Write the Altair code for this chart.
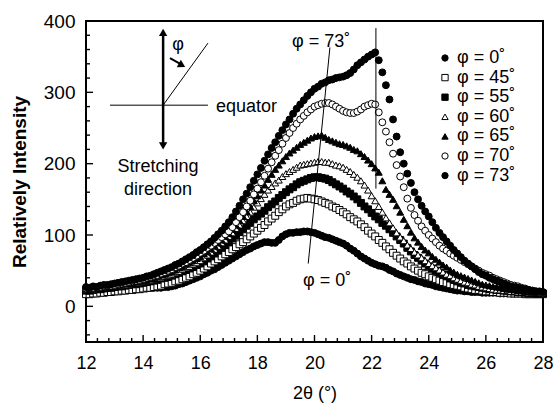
import altair as alt
import pandas as pd

# ---------------- data ----------------
TWO_THETA = [round(12 + 0.125 * i, 3) for i in range(129)]
PHI = ["φ = 0˚", "φ = 45˚", "φ = 55˚", "φ = 60˚", "φ = 65˚", "φ = 70˚", "φ = 73˚"]

I_0 = [21, 22, 22, 23, 23, 23, 24, 24, 24, 24, 25, 25, 25, 25, 25, 25,
       25, 25, 26, 26, 26, 26, 27, 27, 28, 29, 31, 32, 34, 36, 38, 40,
       42, 45, 47, 50, 52, 55, 58, 61, 64, 67, 70, 73, 76, 79, 81, 84,
       86, 88, 90, 90, 89, 89, 93, 98, 101, 103, 103, 104, 104, 105, 105, 104,
       103, 101, 99, 97, 96, 94, 92, 90, 88, 85, 81, 78, 74, 70, 67, 64,
       61, 59, 57, 56, 54, 51, 49, 46, 44, 42, 40, 38, 37, 35, 34, 32,
       31, 30, 28, 27, 26, 25, 24, 23, 22, 22, 21, 21, 20, 20, 20, 19,
       19, 19, 19, 19, 18, 18, 18, 18, 18, 18, 18, 18, 18, 18, 18, 18, 18]
I_45 = [17, 17, 18, 18, 19, 19, 20, 20, 21, 21, 22, 22, 23, 23, 24, 24,
        25, 26, 26, 27, 28, 29, 31, 32, 33, 35, 36, 38, 40, 42, 45, 47,
        50, 53, 56, 60, 63, 66, 70, 73, 76, 80, 83, 87, 90, 94, 98, 102,
        106, 110, 114, 119, 123, 127, 132, 136, 140, 143, 145, 148, 150, 151, 152, 151,
        150, 149, 147, 145, 143, 140, 138, 135, 132, 129, 125, 122, 119, 115, 111, 106,
        102, 98, 93, 89, 84, 80, 75, 71, 67, 63, 60, 56, 53, 50, 47, 45,
        42, 40, 38, 36, 34, 33, 31, 30, 29, 28, 26, 25, 24, 23, 23, 22,
        21, 21, 20, 20, 19, 19, 19, 18, 18, 18, 18, 17, 17, 17, 17, 17, 17]
I_55 = [22, 22, 23, 24, 24, 25, 26, 26, 27, 28, 28, 29, 30, 31, 31, 32,
        33, 34, 35, 36, 37, 39, 40, 41, 43, 45, 47, 49, 51, 53, 55, 58,
        60, 63, 67, 70, 74, 78, 82, 86, 90, 95, 99, 104, 108, 113, 117, 122,
        126, 130, 134, 139, 143, 147, 152, 156, 160, 164, 167, 171, 174, 176, 178, 180,
        181, 181, 180, 179, 177, 174, 171, 168, 165, 161, 158, 154, 150, 145, 140, 136,
        131, 126, 122, 117, 113, 108, 103, 98, 93, 88, 82, 77, 72, 68, 64, 60,
        56, 53, 50, 47, 44, 42, 39, 37, 35, 33, 32, 30, 29, 28, 27, 26,
        25, 24, 24, 23, 23, 22, 22, 21, 21, 20, 20, 19, 19, 19, 18, 18, 18]
I_60 = [23, 23, 24, 25, 25, 26, 27, 27, 28, 29, 29, 30, 31, 32, 32, 33,
        34, 35, 36, 38, 39, 40, 42, 43, 45, 47, 49, 52, 54, 56, 59, 61,
        64, 68, 72, 76, 80, 84, 89, 93, 98, 103, 109, 114, 120, 126, 132, 139,
        145, 151, 157, 163, 168, 173, 177, 182, 186, 189, 192, 195, 198, 199, 200, 201,
        202, 203, 203, 202, 202, 200, 198, 197, 195, 192, 189, 185, 181, 176, 170, 163,
        155, 148, 140, 132, 124, 117, 110, 103, 97, 92, 86, 81, 76, 72, 68, 64,
        60, 57, 54, 51, 48, 45, 43, 40, 38, 36, 34, 33, 31, 30, 28, 27,
        26, 25, 24, 23, 23, 22, 22, 21, 21, 20, 20, 20, 19, 19, 19, 18, 18]
I_65 = [24, 24, 25, 26, 26, 27, 28, 28, 29, 30, 31, 32, 32, 33, 34, 35,
        36, 37, 39, 40, 42, 44, 45, 47, 49, 51, 54, 56, 59, 61, 64, 67,
        70, 74, 77, 81, 85, 89, 93, 98, 102, 108, 114, 120, 126, 133, 140, 148,
        155, 163, 170, 178, 185, 192, 198, 204, 210, 215, 219, 223, 227, 230, 233, 236,
        238, 239, 240, 237, 234, 232, 230, 228, 227, 225, 223, 220, 218, 214, 210, 205,
        200, 194, 188, 176, 164, 157, 150, 141, 132, 122, 113, 104, 96, 90, 84, 79,
        75, 70, 66, 62, 58, 55, 51, 48, 45, 43, 41, 39, 37, 35, 33, 31,
        30, 29, 28, 27, 26, 25, 24, 24, 23, 22, 22, 21, 21, 20, 20, 19, 19]
I_70 = [25, 25, 26, 27, 27, 28, 29, 29, 30, 31, 32, 33, 34, 35, 36, 37,
        38, 40, 41, 43, 44, 46, 48, 50, 52, 55, 57, 60, 62, 65, 68, 71,
        75, 78, 82, 85, 89, 93, 97, 101, 105, 111, 118, 125, 132, 140, 148, 157,
        165, 174, 183, 193, 202, 211, 219, 228, 236, 243, 250, 256, 262, 267, 272, 276,
        280, 282, 284, 285, 285, 283, 280, 277, 274, 272, 271, 271, 273, 276, 280, 282,
        284, 283, 272, 258, 245, 230, 214, 198, 182, 167, 151, 138, 128, 120, 112, 106,
        100, 95, 90, 85, 81, 78, 74, 71, 68, 65, 62, 59, 56, 53, 50, 47,
        45, 43, 40, 38, 36, 34, 32, 30, 29, 28, 26, 25, 23, 22, 21, 20, 19]
I_73 = [27, 26, 28, 27, 29, 30, 30, 31, 32, 33, 34, 35, 36, 37, 38, 39,
        40, 42, 43, 45, 47, 49, 51, 53, 55, 58, 60, 63, 66, 69, 72, 76,
        79, 83, 87, 91, 96, 101, 106, 112, 118, 125, 133, 141, 150, 158, 167, 176,
        185, 194, 204, 213, 222, 230, 239, 247, 255, 262, 270, 277, 283, 289, 295, 300,
        305, 308, 312, 314, 317, 318, 320, 321, 322, 324, 327, 332, 338, 342, 346, 350,
        353, 356, 345, 328, 310, 290, 262, 238, 216, 200, 186, 173, 160, 150, 141, 133,
        126, 118, 110, 103, 97, 91, 85, 79, 74, 69, 64, 60, 56, 52, 48, 45,
        43, 40, 38, 36, 34, 32, 30, 28, 27, 26, 25, 24, 23, 22, 21, 21, 20]
SERIES = [I_0, I_45, I_55, I_60, I_65, I_70, I_73]
SHAPES = ["circle", "square", "square", "triangle-up", "triangle-up", "circle", "circle"]
FILLS = ["black", "white", "black", "white", "black", "white", "black"]
STROKES = ["black"] * 7

X_MAJOR = [12, 14, 16, 18, 20, 22, 24, 26, 28]
X_MINOR = [round(12 + 0.4 * i, 2) for i in range(41) if i % 5 != 0]
Y_MAJOR = [0, 100, 200, 300, 400]
Y_MINOR = [v for v in range(-40, 400, 20) if v % 100 != 0]

# inward tick lengths, in axis units (major, minor)
XTICK_LEN = (9.8, 5.6)     # along y
YTICK_LEN = (0.245, 0.14)  # along x

# annotation segments (data coordinates): x1, y1, x2, y2, width
SEG_X1 = [20.54, 22.15, 14.70, 12.84, 14.70, 14.94]
SEG_Y1 = [363, 390, 383, 282, 282, 348]
SEG_X2 = [19.78, 22.15, 14.70, 16.27, 16.27, 15.30]
SEG_Y2 = [60, 165, 226, 282, 369, 340]
SEG_W = [1, 1, 2.5, 1, 1, 2]

ARROW_UP = {"x": [14.70], "y": [384]}
ARROW_DOWN = {"x": [14.70], "y": [225]}
ARROW_TILT = {"x": [15.36], "y": [338]}

TXT_C = ["φ = 73˚", "φ = 0˚", "φ", "Stretching", "direction"]
TXT_C_X = [20.23, 20.44, 15.22, 14.52, 14.52]
TXT_C_Y = [370, 35, 366, 196, 163]
TXT_L = ["equator"]
TXT_L_X = [16.55]
TXT_L_Y = [280]

# ---------------- build ----------------
rows = []
for lab, vals in zip(PHI, SERIES):
    for t, v in zip(TWO_THETA, vals):
        rows.append({"x": t, "y": v, "phi": lab})
df = pd.DataFrame(rows)

FONT = "Liberation Sans"
W, H = 457, 321
XMIN, XMAX, YMIN, YMAX = 12, 28, -50, 400
XS = alt.Scale(domain=[XMIN, XMAX], nice=False, zero=False, padding=0)
YS = alt.Scale(domain=[YMIN, YMAX], nice=False, zero=False, padding=0)
XTITLE = "2θ (°)"
YTITLE = "Relatively Intensity"
XAXIS = alt.Axis(values=X_MAJOR, ticks=False, tickSize=0, domain=False, grid=False,
                 labelFlush=False, labelOverlap=False,
                 labelFont=FONT, labelFontSize=18, labelColor="black",
                 labelPadding=12, titleFont=FONT, titleFontSize=18,
                 titleFontWeight="normal", titleColor="black", titlePadding=12)
YAXIS = alt.Axis(values=Y_MAJOR, ticks=False, tickSize=0, domain=False, grid=False,
                 labelFlush=False, labelOverlap=False,
                 labelFont=FONT, labelFontSize=19, labelColor="black",
                 labelPadding=11, titleFont=FONT, titleFontSize=19,
                 titleFontWeight="bold", titleColor="black", titlePadding=14)


def X(field="x"):
    return alt.X(f"{field}:Q", scale=XS, axis=XAXIS, title=XTITLE)


def Y(field="y"):
    return alt.Y(f"{field}:Q", scale=YS, axis=YAXIS, title=YTITLE)


leg = alt.Legend(title=None, orient="none", legendX=350, legendY=28, labelFont=FONT,
                 labelFontSize=18, labelColor="black", symbolStrokeColor="black",
                 symbolStrokeWidth=1, symbolSize=40, rowPadding=1.6, labelOffset=3,
                 padding=0)

points = alt.Chart(df).mark_point(filled=True, strokeWidth=1, opacity=1, size=48).encode(
    x=X(), y=Y(),
    shape=alt.Shape("phi:N", scale=alt.Scale(domain=PHI, range=SHAPES), legend=leg),
    fill=alt.Fill("phi:N", scale=alt.Scale(domain=PHI, range=FILLS), legend=leg),
    stroke=alt.Stroke("phi:N", scale=alt.Scale(domain=PHI, range=STROKES), legend=leg),
)

seg_df = pd.DataFrame({"x": SEG_X1, "y": SEG_Y1, "x2": SEG_X2, "y2": SEG_Y2, "w": SEG_W})
segs = alt.Chart(seg_df).mark_rule(color="black").encode(
    x=X(), y=Y(), x2="x2:Q", y2="y2:Q",
    strokeWidth=alt.StrokeWidth("w:Q", scale=None, legend=None))

# inward axis ticks
tick_rows = []
for v in X_MAJOR:
    tick_rows.append({"x": v, "y": YMIN, "x2": v, "y2": YMIN + XTICK_LEN[0]})
for v in X_MINOR:
    tick_rows.append({"x": v, "y": YMIN, "x2": v, "y2": YMIN + XTICK_LEN[1]})
for v in Y_MAJOR:
    tick_rows.append({"x": XMIN, "y": v, "x2": XMIN + YTICK_LEN[0], "y2": v})
for v in Y_MINOR:
    tick_rows.append({"x": XMIN, "y": v, "x2": XMIN + YTICK_LEN[1], "y2": v})
ticks = alt.Chart(pd.DataFrame(tick_rows)).mark_rule(color="black", strokeWidth=1.4).encode(
    x=X(), y=Y(), x2="x2:Q", y2="y2:Q")


def head(d, shape, angle=0):
    return alt.Chart(pd.DataFrame(d)).mark_point(filled=True, color="black", opacity=1,
                                                 shape=shape, size=70, angle=angle).encode(
        x=X(), y=Y())


txt_c = alt.Chart(pd.DataFrame({"x": TXT_C_X, "y": TXT_C_Y, "s": TXT_C})).mark_text(
    font=FONT, fontSize=18, color="black", align="center", baseline="middle").encode(
    x=X(), y=Y(), text="s:N")
txt_l = alt.Chart(pd.DataFrame({"x": TXT_L_X, "y": TXT_L_Y, "s": TXT_L})).mark_text(
    font=FONT, fontSize=18, color="black", align="left", baseline="middle").encode(
    x=X(), y=Y(), text="s:N")

chart = alt.layer(
    points, segs,
    head(ARROW_UP, "triangle-up"), head(ARROW_DOWN, "triangle-down"),
    head(ARROW_TILT, "triangle-up", 119),
    txt_c, txt_l, ticks,
).properties(
    width=W, height=H, autosize=alt.AutoSizeParams(type="none"),
    padding={"left": 86, "top": 21, "right": 11, "bottom": 65},
    background="white",
).configure_view(stroke="black", strokeWidth=2)

chart.save("out.html", embed_options={"renderer": "svg", "actions": False})
